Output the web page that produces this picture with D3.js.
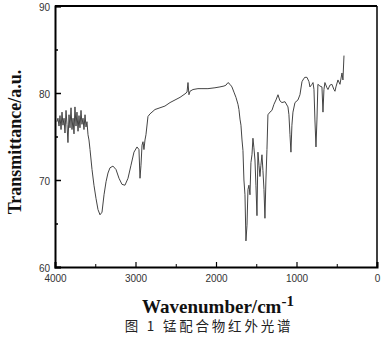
<!DOCTYPE html>
<html lang="zh">
<head>
    <meta charset="UTF-8">
    <title>IR spectrum</title>
    <script src="https://d3js.org/d3.v7.min.js"></script>
    <style>
        body { margin: 0; background: #fff; }
        .tick-label { font-family: "Liberation Sans", Arial, sans-serif; font-size: 10px; fill: #333; }
        .axis-title { font-family: "Liberation Serif", "Times New Roman", serif; font-weight: bold; fill: #111; }
        .caption { font-family: "Noto Sans CJK SC", sans-serif; font-size: 13.5px; fill: #222; letter-spacing: 2.8px; }
    </style>
</head>
<body>
    <svg id="chart" width="389" height="343"></svg>

    <script>
        // spectrum (wavenumber cm-1, transmittance)
        let wavenumber = [3975, 3963, 3950, 3938, 3925, 3913, 3901, 3888, 3876, 3863,
            3851, 3839, 3826, 3814, 3801, 3789, 3776, 3764, 3752, 3739,
            3727, 3714, 3702, 3690, 3677, 3665, 3652, 3640, 3627, 3615,
            3603, 3590, 3578, 3565, 3540, 3516, 3491, 3466, 3441, 3416,
            3391, 3366, 3342, 3317, 3280, 3242, 3205, 3168, 3131, 3093,
            3056, 3019, 2981, 2957, 2944, 2932, 2919, 2907, 2895, 2882,
            2870, 2845, 2820, 2795, 2758, 2696, 2634, 2571, 2509, 2447,
            2385, 2360, 2348, 2336, 2323, 2286, 2224, 2174, 2100, 2013,
            1951, 1901, 1876, 1851, 1826, 1802, 1777, 1752, 1727, 1715,
            1702, 1690, 1677, 1665, 1653, 1640, 1628, 1615, 1603, 1591,
            1578, 1566, 1553, 1541, 1529, 1516, 1504, 1491, 1479, 1466,
            1454, 1442, 1429, 1417, 1404, 1392, 1380, 1367, 1355, 1330,
            1305, 1280, 1255, 1230, 1206, 1181, 1143, 1106, 1094, 1081,
            1069, 1057, 1044, 1019, 982, 957, 932, 907, 895, 870,
            845, 833, 808, 795, 783, 771, 758, 746, 734, 709,
            684, 671, 659, 647, 622, 609, 585, 560, 535, 522,
            510, 485, 460, 435, 423, 410];
        let transmittance = [76.7, 77.1, 76.2, 77.4, 75.8, 77.8, 76.3, 77.1, 75.4, 78.0,
            76.4, 74.3, 77.5, 76.0, 78.3, 75.8, 77.1, 75.3, 78.4, 76.2,
            77.8, 75.6, 77.4, 76.0, 78.0, 76.4, 77.1, 75.8, 77.5, 76.1,
            76.7, 75.2, 74.6, 73.5, 71.2, 69.4, 67.9, 66.6, 66.0, 66.3,
            68.3, 69.8, 70.8, 71.4, 71.6, 71.2, 70.2, 69.5, 69.4, 70.2,
            71.7, 73.2, 73.8, 73.5, 70.2, 71.7, 74.0, 74.4, 73.5, 74.6,
            75.2, 77.3, 77.6, 77.8, 78.1, 78.3, 78.5, 78.9, 79.2, 79.5,
            79.9, 80.1, 81.2, 79.8, 80.2, 80.4, 80.5, 80.5, 80.5, 80.6,
            80.7, 80.8, 80.9, 81.2, 81.0, 80.7, 80.1, 79.5, 78.7, 78.1,
            77.0, 76.3, 74.6, 73.4, 70.0, 68.3, 63.0, 64.8, 68.9, 69.4,
            68.3, 72.0, 72.9, 74.8, 73.7, 72.3, 69.4, 65.9, 73.2, 71.7,
            70.4, 71.7, 72.9, 71.1, 68.9, 65.6, 70.0, 73.5, 77.5, 77.8,
            78.0, 78.7, 79.2, 79.8, 79.1, 78.9, 79.0, 78.4, 77.5, 75.2,
            73.2, 76.3, 77.8, 78.9, 79.2, 79.8, 81.3, 81.7, 81.8, 81.8,
            81.3, 80.7, 81.0, 81.2, 80.4, 76.9, 73.8, 76.9, 81.0, 80.8,
            80.7, 77.8, 80.4, 81.2, 80.6, 80.4, 80.9, 81.0, 80.4, 80.2,
            80.7, 81.5, 81.0, 82.3, 81.5, 84.3];

        let xTicks = [4000, 3000, 2000, 1000, 0];
        let xMinor = [3500, 2500, 1500, 500];
        let yTicks = [60, 70, 80, 90];
        let yMinor = [65, 75, 85];

        let width = 389, height = 343;
        let margin = {top: 6, right: 12, bottom: 76, left: 55};

        let svg = d3.select("#chart");

        let x = d3.scaleLinear().domain([4000, 0]).range([margin.left, width - margin.right]);
        let y = d3.scaleLinear().domain([60, 90]).range([height - margin.bottom, margin.top]);

        // spectrum
        let points = d3.zip(wavenumber, transmittance);
        svg.append("path")
            .datum(points)
            .attr("fill", "none")
            .attr("stroke", "#444")
            .attr("stroke-width", 1)
            .attr("stroke-linejoin", "round")
            .attr("d", d3.line().x(d => x(d[0])).y(d => y(d[1])));

        // frame: top and right
        svg.append("line")
            .attr("x1", margin.left).attr("x2", width - margin.right)
            .attr("y1", margin.top).attr("y2", margin.top)
            .attr("stroke", "#000").attr("stroke-width", 2);
        svg.append("line")
            .attr("x1", width - margin.right).attr("x2", width - margin.right)
            .attr("y1", margin.top).attr("y2", height - margin.bottom)
            .attr("stroke", "#000").attr("stroke-width", 1.5);

        // bottom axis, ticks inward
        let xAxis = svg.append("g")
            .attr("transform", `translate(0,${height - margin.bottom})`)
            .call(d3.axisTop(x).tickValues(xTicks).tickSize(5).tickFormat(d3.format("d")));
        xAxis.select(".domain").attr("stroke-width", 2);
        xAxis.selectAll(".tick line").attr("stroke-width", 1.2);
        xAxis.selectAll(".tick text")
            .attr("class", "tick-label")
            .attr("y", 15)
            .attr("dy", 0);
        svg.append("g")
            .attr("transform", `translate(0,${height - margin.bottom})`)
            .call(d3.axisTop(x).tickValues(xMinor).tickSize(3).tickFormat(""))
            .call(g => g.select(".domain").remove());

        // left axis, ticks inward
        let yAxis = svg.append("g")
            .attr("transform", `translate(${margin.left},0)`)
            .call(d3.axisRight(y).tickValues(yTicks).tickSize(6));
        yAxis.select(".domain").attr("stroke-width", 2);
        yAxis.selectAll(".tick line").attr("stroke-width", 1.5);
        yAxis.selectAll(".tick text")
            .attr("class", "tick-label")
            .attr("x", -5)
            .attr("dy", "0.45em")
            .attr("text-anchor", "end");
        svg.append("g")
            .attr("transform", `translate(${margin.left},0)`)
            .call(d3.axisRight(y).tickValues(yMinor).tickSize(3).tickFormat(""))
            .call(g => g.select(".domain").remove())
            .selectAll(".tick line").attr("stroke-width", 1.5);

        // titles
        svg.append("text")
            .attr("class", "axis-title")
            .attr("transform", "translate(21,142) rotate(-90)")
            .attr("text-anchor", "middle")
            .style("font-size", "18px")
            .text("Transmittance/a.u.");

        let xt = svg.append("text")
            .attr("class", "axis-title")
            .attr("x", 218)
            .attr("y", 313)
            .attr("text-anchor", "middle")
            .style("font-size", "19px");
        xt.append("tspan").text("Wavenumber/cm");
        xt.append("tspan").attr("dy", -7).style("font-size", "15px").text("-1");

        svg.append("text")
            .attr("class", "caption")
            .attr("x", 209)
            .attr("y", 331)
            .attr("text-anchor", "middle")
            .text("图 1 锰配合物红外光谱");
    </script>
</body>
</html>
